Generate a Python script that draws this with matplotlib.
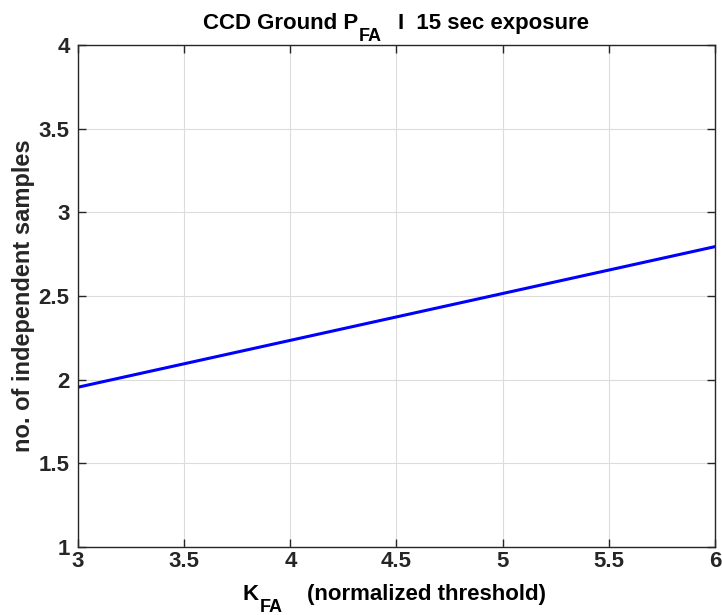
import matplotlib
matplotlib.use('Agg')
import matplotlib.pyplot as plt
from matplotlib.transforms import IdentityTransform

# Data
k_fa = [3.0, 4.0, 5.0, 6.0]
samples = [1.955, 2.235, 2.515, 2.795]
x_ticks = [3, 3.5, 4, 4.5, 5, 5.5, 6]
y_ticks = [1, 1.5, 2, 2.5, 3, 3.5, 4]

title_parts = [('CCD Ground P', 'main'), ('FA', 'sub'), ('I  15 sec exposure', 'main')]
xlabel_parts = [('K', 'main'), ('FA', 'sub'), ('(normalized threshold)', 'main')]
ylabel_text = 'no. of independent samples'

plt.rcParams['font.family'] = ['Liberation Sans', 'DejaVu Sans']
plt.rcParams['font.weight'] = 'bold'

W, H = 722, 615
FS = 16
SUB_FS = 13
DARK = '#262626'

fig = plt.figure(figsize=(W / 100, H / 100), dpi=100)
ax = fig.add_axes([78 / W, (H - 547) / H, (715 - 78) / W, (547 - 45) / H])

ax.plot(k_fa, samples, color='#0000ff', linewidth=2.2)

ax.set_xlim(3, 6)
ax.set_ylim(1, 4)
ax.set_xticks(x_ticks)
ax.set_yticks(y_ticks)
ax.set_xticklabels([f'{v:g}' for v in x_ticks])
ax.set_yticklabels([f'{v:g}' for v in y_ticks])
ax.grid(True, color='#dcdcdc', linewidth=0.8)
ax.set_axisbelow(True)

ax.tick_params(direction='in', length=6, width=1, labelsize=FS, colors=DARK,
               top=True, right=True)
ax.tick_params(axis='x', pad=3)
ax.tick_params(axis='y', pad=6)
for lbl in ax.get_xticklabels() + ax.get_yticklabels():
    lbl.set_fontweight('bold')
for s in ax.spines.values():
    s.set_color(DARK)
    s.set_linewidth(1)

renderer = fig.canvas.get_renderer()


def rich_text(cx, base_y, parts, gaps):
    # lay out main text + subscripts left to right, centred on cx (pixels)
    sizes = {'main': FS, 'sub': SUB_FS}
    drops = {'main': 0, 'sub': 12}
    widths = []
    for txt, kind in parts:
        t = fig.text(0, 0, txt, fontsize=sizes[kind], fontweight='bold')
        widths.append(t.get_window_extent(renderer).width)
        t.remove()
    total = sum(widths) + sum(gaps)
    x = cx - total / 2
    for i, (txt, kind) in enumerate(parts):
        fig.text(x, H - base_y - drops[kind], txt, fontsize=sizes[kind],
                 fontweight='bold', color='black', ha='left', va='baseline',
                 transform=IdentityTransform())
        x += widths[i]
        if i < len(gaps):
            x += gaps[i]


rich_text(396, 29, title_parts, [1, 16])
rich_text(394, 600, xlabel_parts, [1, 24])

fig.text(24 / W, (H - 296) / H, ylabel_text, fontsize=17, fontweight='bold',
         rotation=90, ha='center', va='center', color=DARK)

fig.savefig('out.png', dpi=100)
